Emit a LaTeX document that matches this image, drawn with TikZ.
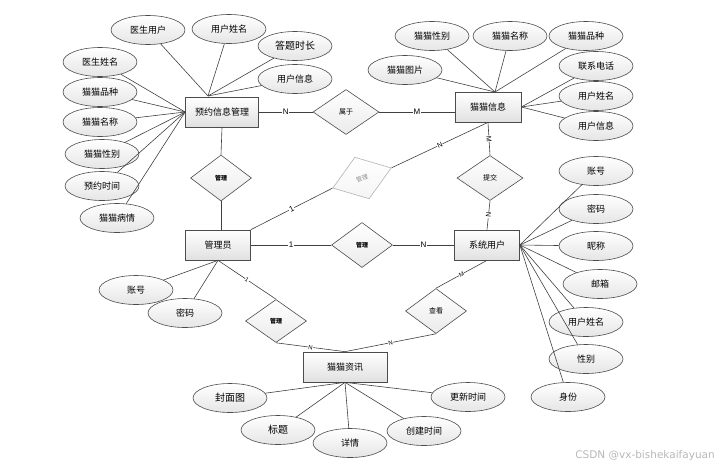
\documentclass[tikz,border=0pt]{standalone}
\usepackage{fontspec}
\usepackage{tikz}
\usetikzlibrary{shapes.geometric}
\newfontfamily\cjk{Noto Sans CJK SC}
\newfontfamily\lat{Liberation Sans}
\newfontfamily\wm{DejaVu Sans}

\tikzset{
        shuxing/.style={ellipse, draw=black!70, line width=0.6pt, top color=white, bottom color=black!10,
                minimum width=74pt, minimum height=29pt, inner sep=0pt, font=\cjk\fontsize{9}{9}\selectfont},
        shiti/.style={rectangle, draw=black!70, line width=0.7pt, top color=white, bottom color=black!12,
                minimum height=30pt, inner sep=0pt, font=\cjk\fontsize{9}{9}\selectfont},
        guanxi/.style={diamond, draw=black!70, line width=0.6pt, top color=white, bottom color=black!8,
                minimum width=62pt, minimum height=45pt, inner sep=0pt, font=\cjk\fontsize{7}{7}\selectfont},
        lian/.style={draw=black!75, line width=0.6pt},
        biao/.style={fill=white, inner sep=0.6pt, font=\lat\fontsize{8}{8}\selectfont},
        xbiao/.style={fill=white, inner sep=0.4pt, sloped, font=\lat\fontsize{6}{6}\selectfont}
}

\begin{document}
\begin{tikzpicture}[x=1pt, y=-1pt]
        \useasboundingbox (0,0) rectangle (728,469);

        \node[shiti, minimum width=73pt] (yyxx) at (222,112) {预约信息管理};
        \node[shiti, minimum width=66pt] (mmxx) at (488,107) {猫猫信息};
        \node[shiti, minimum width=65pt] (gly) at (218,245) {管理员};
        \node[shiti, minimum width=65pt] (xtyh) at (487,245) {系统用户};
        \node[shiti, minimum width=84pt] (mmzx) at (345,367) {猫猫资讯};

        \node[guanxi, minimum width=66pt] (sy) at (346,112) {属于};
        \node[guanxi, minimum width=61pt, minimum height=46pt, font=\cjk\bfseries\fontsize{6}{6}\selectfont] (gl1) at (221,178) {管理};
        \node[guanxi, draw=black!30, text=black!45, bottom color=black!4, rotate=19, minimum height=44pt, font=\cjk\fontsize{6}{6}\selectfont] (gl2) at (362,178) {管理};
        \node[guanxi, minimum width=61pt, font=\cjk\bfseries\fontsize{6}{6}\selectfont] (gl3) at (362,245) {管理};
        \node[guanxi, minimum width=66pt] (tj) at (490,178) {提交};
        \node[guanxi, minimum width=61pt, minimum height=43pt, font=\cjk\bfseries\fontsize{6}{6}\selectfont] (gl4) at (276,321) {管理};
        \node[guanxi, minimum width=61pt] (ck) at (436,311) {查看};

        \draw[lian] (yyxx.east) -- node[biao] {N} (sy.west);
        \draw[lian] (sy.east) -- node[biao] {M} (sy.east -| mmxx.west);
        \draw[lian] (yyxx.south) -- (gl1.north);
        \draw[lian] (gl1.south) -- (gl1.south |- gly.north);
        \draw[lian] (gly.north east) -- node[biao, sloped] {1} (gl2.west);
        \draw[lian] (gl2.east) -- node[xbiao, font=\lat\fontsize{7}{7}\selectfont] {N} (mmxx.south);
        \draw[lian] (gly.east) -- node[biao] {1} (gl3.west);
        \draw[lian] (gl3.east) -- node[biao] {N} (xtyh.west);
        \draw[lian] (mmxx.south) -- node[xbiao, font=\lat\fontsize{7}{7}\selectfont] {M} (tj.north);
        \draw[lian] (tj.south) -- node[xbiao, font=\lat\fontsize{7}{7}\selectfont] {N} (xtyh.north);
        \draw[lian] (gly.south) -- node[xbiao] {1} (gl4.north);
        \draw[lian] (gl4.south) -- node[xbiao] {N} (mmzx.north);
        \draw[lian] (ck.south) -- node[xbiao] {N} (mmzx.north);
        \draw[lian] (ck.north) -- node[xbiao] {M} (xtyh.south);

        \coordinate (yyt) at (208,96);
        \node[shuxing] (ya1) at (148,30) {医生用户};
        \node[shuxing] (ya2) at (229,29) {用户姓名};
        \node[shuxing, font=\cjk\fontsize{10}{10}\selectfont] (ya3) at (295,46) {答题时长};
        \node[shuxing] (ya4) at (295,79) {用户信息};
        \node[shuxing] (ya5) at (100,62) {医生姓名};
        \node[shuxing] (ya6) at (100,92) {猫猫品种};
        \node[shuxing] (ya7) at (100,122) {猫猫名称};
        \node[shuxing] (ya8) at (102,154) {猫猫性别};
        \node[shuxing] (ya9) at (102,186) {预约时间};
        \node[shuxing] (ya10) at (117,218) {猫猫病情};
        \foreach \i in {1,...,4} \draw[lian] (ya\i) -- (yyt);
        \foreach \i in {5,...,10} \draw[lian] (ya\i) -- (yyxx.west);

        \coordinate (mmt) at (495,92);
        \node[shuxing] (mx1) at (432,36) {猫猫性别};
        \node[shuxing] (mx2) at (510,36) {猫猫名称};
        \node[shuxing] (mx3) at (586,36) {猫猫品种};
        \node[shuxing] (mx4) at (405,70) {猫猫图片};
        \node[shuxing] (mx5) at (596,66) {联系电话};
        \node[shuxing] (mx6) at (596,96) {用户姓名};
        \node[shuxing] (mx7) at (596,126) {用户信息};
        \foreach \i in {1,...,4} \draw[lian] (mx\i) -- (mmt);
        \foreach \i in {5,...,7} \draw[lian] (mx\i) -- (mmxx.east);

        \node[shuxing] (yh1) at (596,171) {账号};
        \node[shuxing] (yh2) at (596,209) {密码};
        \node[shuxing] (yh3) at (596,246) {昵称};
        \node[shuxing] (yh4) at (600,284) {邮箱};
        \node[shuxing] (yh5) at (586,322) {用户姓名};
        \node[shuxing] (yh6) at (586,359) {性别};
        \node[shuxing] (yh7) at (568,397) {身份};
        \foreach \i in {1,...,7} \draw[lian] (yh\i) -- (xtyh.east);

        \node[shuxing] (gy1) at (136,290) {账号};
        \node[shuxing] (gy2) at (185,313) {密码};
        \foreach \i in {1,2} \draw[lian] (gy\i) -- (gly.south);

        \node[shuxing, font=\cjk\fontsize{10}{10}\selectfont] (zx1) at (230,398) {封面图};
        \node[shuxing, font=\cjk\fontsize{10}{10}\selectfont] (zx2) at (278,430) {标题};
        \node[shuxing] (zx3) at (350,443) {详情};
        \node[shuxing] (zx4) at (468,397) {更新时间};
        \node[shuxing] (zx5) at (424,431) {创建时间};
        \foreach \i in {1,...,5} \draw[lian] (zx\i) -- (mmzx.south);

        \node[anchor=east, text=black!28, inner sep=0pt, font=\wm\fontsize{10.5}{10.5}\selectfont] (shuiyin) at (715,456) {CSDN @vx-bishekaifayuan};
\end{tikzpicture}
\end{document}
